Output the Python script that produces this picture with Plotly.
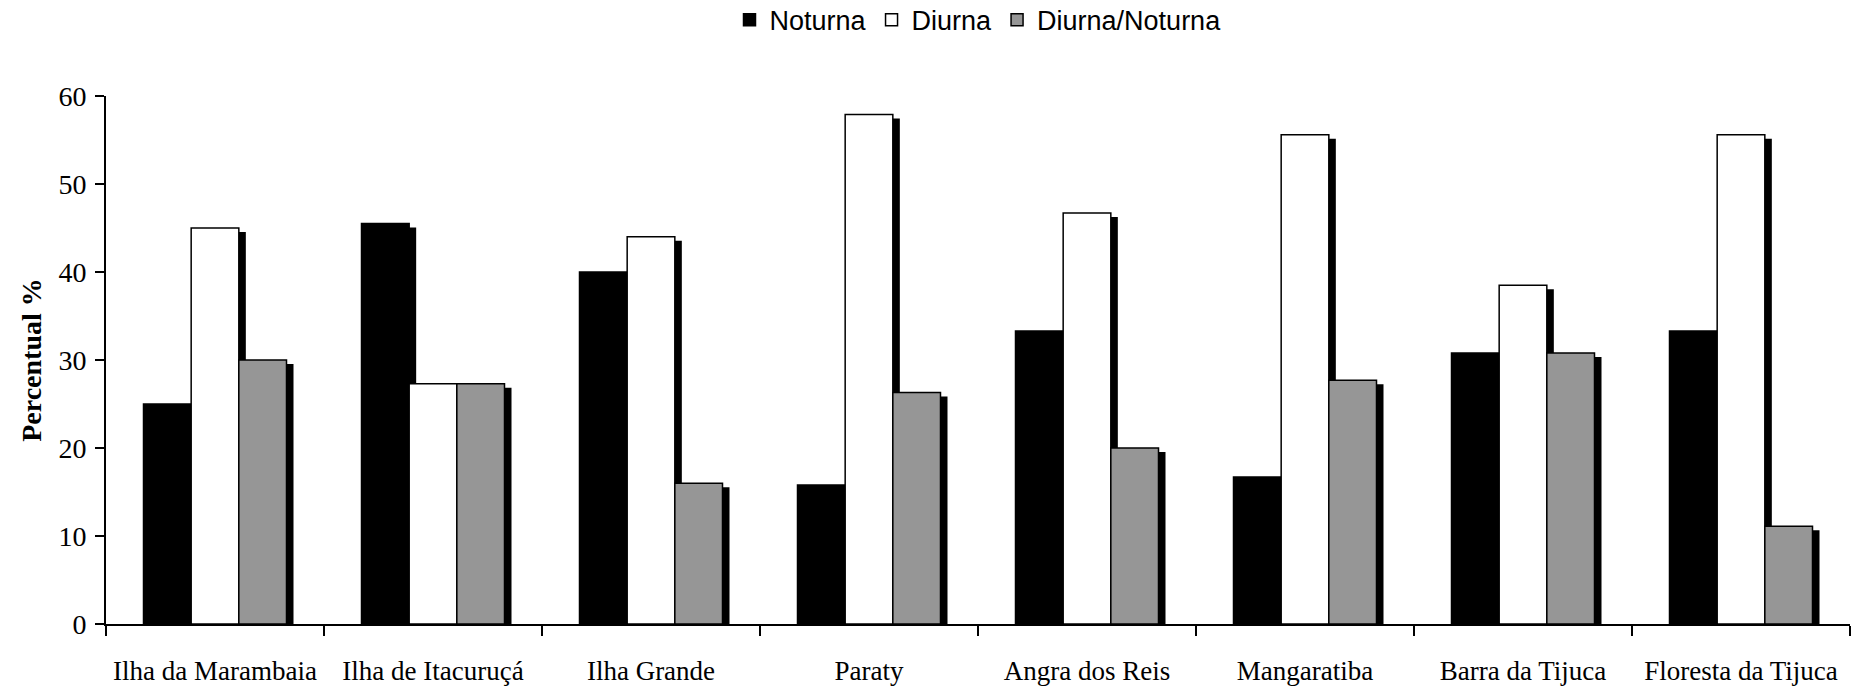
import plotly.graph_objects as go

# Locations surveyed
locais = ["Ilha da Marambaia", "Ilha de Itacuruçá", "Ilha Grande", "Paraty",
          "Angra dos Reis", "Mangaratiba", "Barra da Tijuca", "Floresta da Tijuca"]

# Percentage of species by activity period
noturna = [25.0, 45.5, 40.0, 15.8, 33.3, 16.7, 30.8, 33.3]
diurna = [45.0, 27.3, 44.0, 57.9, 46.7, 55.6, 38.5, 55.6]
diurna_noturna = [30.0, 27.3, 16.0, 26.3, 20.0, 27.7, 30.8, 11.1]

series = [
    ("Noturna", noturna, "#000000"),
    ("Diurna", diurna, "#ffffff"),
    ("Diurna/Noturna", diurna_noturna, "#969696"),
]

W, H = 1870, 690
ML, MR, MT, MB = 106, 13, 96, 66
plot_w = W - ML - MR
SHIFT_X = 7          # drop-shadow horizontal offset in px
SHIFT_Y = 0.45       # drop-shadow vertical drop in data units

fig = go.Figure()

# Drop shadows (drawn on a hidden x axis nudged to the right)
for name, vals, _ in series:
    fig.add_trace(go.Bar(
        x=locais, y=vals, base=[-SHIFT_Y] * len(vals),
        marker=dict(color="#000000", line=dict(width=0)),
        xaxis="x", yaxis="y", showlegend=False, hoverinfo="skip",
    ))

# Main bars
for name, vals, color in series:
    fig.add_trace(go.Bar(
        x=locais, y=vals, name=name,
        marker=dict(color=color, line=dict(color="#000000", width=1.5)),
        xaxis="x2", yaxis="y",
    ))

serif = "Liberation Serif"
sans = "Liberation Sans"

fig.update_layout(
    width=W, height=H,
    margin=dict(l=ML, r=MR, t=MT, b=MB, autoexpand=False),
    paper_bgcolor="white",
    plot_bgcolor="rgba(0,0,0,0)",
    barmode="group",
    bargap=0.344,
    bargroupgap=0,
    showlegend=True,
    legend=dict(
        orientation="h", x=(1744 / 2) / plot_w, xanchor="center",
        y=1.19, yanchor="top",
        font=dict(family=sans, size=27, color="#000000"),
        itemwidth=30, tracegroupgap=0,
        bgcolor="rgba(0,0,0,0)",
    ),
    xaxis=dict(
        domain=[SHIFT_X / plot_w, 1], anchor="y", visible=False,
        type="category", range=[-0.5, len(locais) - 0.5], fixedrange=True,
        automargin=False,
    ),
    xaxis2=dict(
        domain=[0, 1744 / plot_w], anchor="y",
        type="category", range=[-0.5, len(locais) - 0.5],
        showline=True, linecolor="#000000", linewidth=2,
        ticks="outside", tickson="boundaries", ticklen=10, tickwidth=1.5,
        tickcolor="#000000", showgrid=False, zeroline=False,
        tickangle=0,
        tickfont=dict(family=serif, size=27, color="#000000"),
        ticklabelstandoff=22, automargin=False,
    ),
    yaxis=dict(
        domain=[0, 1], anchor="x2", range=[0, 60], dtick=10,
        showline=True, linecolor="#000000", linewidth=2,
        ticks="outside", ticklen=9, tickwidth=1.5, tickcolor="#000000",
        showgrid=False, zeroline=False,
        tickfont=dict(family=serif, size=28, color="#000000"),
        ticklabelstandoff=3, automargin=False,
        title=dict(text="<b>Percentual %</b>",
                   font=dict(family=serif, size=28, color="#000000"),
                   standoff=9),
    ),
)

fig.write_html("out.html")
